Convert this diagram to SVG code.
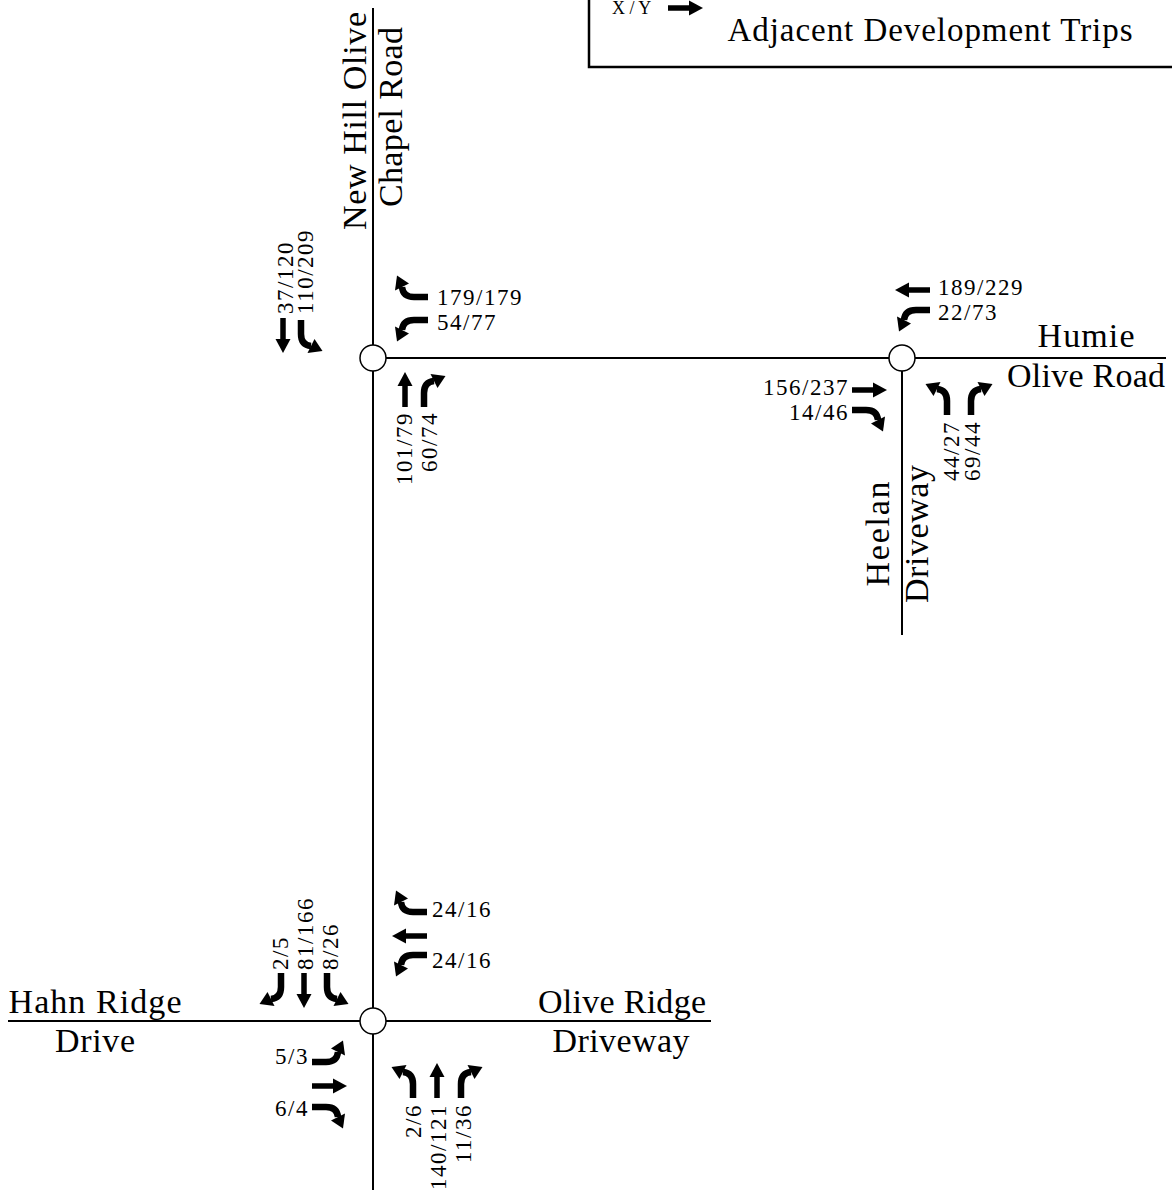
<svg xmlns="http://www.w3.org/2000/svg" xmlns:xlink="http://www.w3.org/1999/xlink" width="1172" height="1190" viewBox="0 0 1172 1190">
<style>
.road{stroke:#000;stroke-width:2;fill:none}
.node circle{fill:#fff;stroke:#000;stroke-width:1.5}
.lbl{font-family:"Liberation Serif",serif;font-size:34px;fill:#000}
.vol{font-family:"Liberation Serif",serif;font-size:23px;letter-spacing:1.5px;fill:#000}
.mid{text-anchor:middle}
.end{text-anchor:end}
</style>
<defs>
<g id="thru"><path d="M0,0 V-22" stroke="#000" stroke-width="5.5" fill="none"/><path d="M-7.5,-21 L0,-35 L7.5,-21 Z" fill="#000"/></g>
<g id="turnR"><path d="M0,0 V-14 Q0,-25 10,-26" fill="none" stroke="#000" stroke-width="6.5"/><path d="M6.5,-33 L21.5,-31 L13.5,-19 Z" fill="#000"/></g>
<g id="turnL"><use href="#turnR" transform="scale(-1,1)"/></g>
</defs>
<rect width="1172" height="1190" fill="#fff"/>

<g id="legend">
<rect x="589" y="-20" width="700" height="87" fill="#fff" stroke="#000" stroke-width="2.5"/>
<text x="612" y="14" style="font-family:'Liberation Serif',serif;font-size:18px">X / Y</text>
<use href="#thru" transform="translate(668,8) rotate(90)"/>
<text x="930" y="41" class="lbl mid" textLength="405" lengthAdjust="spacing" style="font-size:33px">Adjacent Development Trips</text>
</g>

<g id="connectors">
<path class="road" d="M373,8 V1190"/>
<path class="road" d="M373,358 H1166"/>
<path class="road" d="M902,358 V635"/>
<path class="road" d="M8,1021 H711"/>
</g>

<g id="road-labels">
<text class="lbl mid" transform="translate(366,121) rotate(-90)" textLength="218" lengthAdjust="spacing">New Hill Olive</text>
<text class="lbl mid" transform="translate(402,117) rotate(-90)" textLength="180" lengthAdjust="spacing">Chapel Road</text>
<text class="lbl mid" x="1086" y="347" textLength="97" lengthAdjust="spacing">Humie</text>
<text class="lbl mid" x="1086" y="387" textLength="158" lengthAdjust="spacing">Olive Road</text>
<text class="lbl mid" transform="translate(889,534) rotate(-90)" textLength="105" lengthAdjust="spacing">Heelan</text>
<text class="lbl mid" transform="translate(928,534) rotate(-90)" textLength="138" lengthAdjust="spacing">Driveway</text>
<text class="lbl mid" x="95" y="1013" textLength="173" lengthAdjust="spacing">Hahn Ridge</text>
<text class="lbl mid" x="95" y="1052" textLength="80" lengthAdjust="spacing">Drive</text>
<text class="lbl mid" x="622" y="1013" textLength="168" lengthAdjust="spacing">Olive Ridge</text>
<text class="lbl mid" x="621" y="1052" textLength="137" lengthAdjust="spacing">Driveway</text>
</g>

<g id="node-north" class="node">
<circle cx="373" cy="358" r="13"/>
<use href="#thru" transform="translate(283,318) rotate(180)"/>
<use href="#turnL" transform="translate(301,320) rotate(180)"/>
<use href="#turnR" transform="translate(428,297) rotate(-90)"/>
<use href="#turnL" transform="translate(428,320) rotate(-90)"/>
<use href="#thru" transform="translate(405,407)"/>
<use href="#turnR" transform="translate(424,407)"/>
<text class="vol" x="437" y="305">179/179</text>
<text class="vol" x="437" y="330">54/77</text>
<text class="vol" transform="translate(293,314) rotate(-90)">37/120</text>
<text class="vol" transform="translate(313,314) rotate(-90)">110/209</text>
<text class="vol end" transform="translate(412,412) rotate(-90)">101/79</text>
<text class="vol end" transform="translate(437,412) rotate(-90)">60/74</text>
</g>

<g id="node-east" class="node">
<circle cx="902" cy="358" r="13"/>
<use href="#thru" transform="translate(930,290) rotate(-90)"/>
<use href="#turnL" transform="translate(930,310) rotate(-90)"/>
<use href="#thru" transform="translate(852,390) rotate(90)"/>
<use href="#turnR" transform="translate(852,410) rotate(90)"/>
<use href="#turnL" transform="translate(947,415)"/>
<use href="#turnR" transform="translate(971,415)"/>
<text class="vol" x="938" y="295">189/229</text>
<text class="vol" x="938" y="320">22/73</text>
<text class="vol end" x="849" y="395">156/237</text>
<text class="vol end" x="849" y="420">14/46</text>
<text class="vol end" transform="translate(959,421) rotate(-90)">44/27</text>
<text class="vol end" transform="translate(980,421) rotate(-90)">69/44</text>
</g>

<g id="node-south" class="node">
<circle cx="373" cy="1021" r="13"/>
<use href="#turnR" transform="translate(281,973) rotate(180)"/>
<use href="#thru" transform="translate(304,973) rotate(180)"/>
<use href="#turnL" transform="translate(327,973) rotate(180)"/>
<use href="#turnR" transform="translate(427,912) rotate(-90)"/>
<use href="#thru" transform="translate(427,936) rotate(-90)"/>
<use href="#turnL" transform="translate(427,955) rotate(-90)"/>
<use href="#turnL" transform="translate(312,1062) rotate(90)"/>
<use href="#thru" transform="translate(312,1086) rotate(90)"/>
<use href="#turnR" transform="translate(312,1107) rotate(90)"/>
<use href="#turnL" transform="translate(413,1098)"/>
<use href="#thru" transform="translate(437,1098)"/>
<use href="#turnR" transform="translate(461,1098)"/>
<text class="vol" transform="translate(288,970) rotate(-90)">2/5</text>
<text class="vol" transform="translate(313,970) rotate(-90)">81/166</text>
<text class="vol" transform="translate(338,970) rotate(-90)">8/26</text>
<text class="vol" x="432" y="917">24/16</text>
<text class="vol" x="432" y="968">24/16</text>
<text class="vol end" x="309" y="1064">5/3</text>
<text class="vol end" x="309" y="1116">6/4</text>
<text class="vol end" transform="translate(421,1104) rotate(-90)">2/6</text>
<text class="vol end" transform="translate(446,1104) rotate(-90)">140/121</text>
<text class="vol end" transform="translate(471,1104) rotate(-90)">11/36</text>
</g>
</svg>
